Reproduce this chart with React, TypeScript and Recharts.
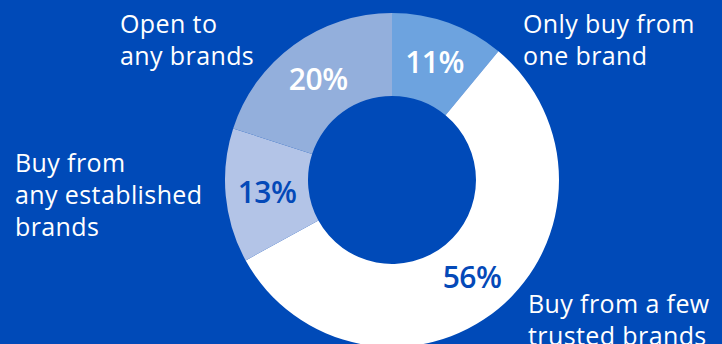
import { PieChart, Pie, Cell } from "recharts";

const segments = ["Only buy from one brand", "Buy from a few trusted brands", "Buy from any established brands", "Open to any brands"];
const shares = [11, 56, 13, 20];
const nameLines = [
  ["Only buy from", "one brand"],
  ["Buy from a few", "trusted brands"],
  ["Buy from", "any established", "brands"],
  ["Open to", "any brands"],
];

const sliceColors = ["#6da3df", "#ffffff", "#b3c4e7", "#93afdc"];
const pctColors = ["#ffffff", "#0449b8", "#0449b8", "#ffffff"];
// where each category name block starts (x, first baseline)
const nameAnchors = [
  [523, 33],
  [528, 313],
  [15, 172],
  [120, 33],
];

const BG = "#004ab8";
const FONT = "'Open Sans', Lato, sans-serif";
const RAD = Math.PI / 180;

const data = segments.map((s, i) => ({ name: s, value: shares[i] }));

function renderLabel(props: any) {
  const { cx, cy, midAngle, innerRadius, outerRadius, index, value } = props;
  const r = (innerRadius + outerRadius) / 2;
  const x = cx + r * Math.cos(-midAngle * RAD);
  const y = cy + r * Math.sin(-midAngle * RAD);
  const [nx, ny] = nameAnchors[index];
  return (
    <g>
      <text x={x} y={y} fill={pctColors[index]} textAnchor="middle" dominantBaseline="central"
        fontSize={30} fontWeight={600} fontFamily={FONT} letterSpacing={-0.5}>
        {value}%
      </text>
      <text x={nx} y={ny} fill="#ffffff" fontSize={25} fontFamily={FONT} letterSpacing={0.4}>
        {nameLines[index].map((line, k) => (
          <tspan key={k} x={nx} y={ny + k * 32}>{line}</tspan>
        ))}
      </text>
    </g>
  );
}

export default function App() {
  return (
    <div style={{ position: "fixed", left: 0, top: 0, width: 722, height: 344, background: BG, overflow: "hidden" }}>
      <PieChart width={722} height={344} margin={{ top: 0, right: 0, bottom: 0, left: 0 }}>
        <Pie
          data={data}
          dataKey="value"
          nameKey="name"
          cx={392}
          cy={180}
          innerRadius={84}
          outerRadius={167}
          startAngle={90}
          endAngle={-270}
          stroke="none"
          labelLine={false}
          label={renderLabel}
          isAnimationActive={false}
        >
          {data.map((d, i) => (
            <Cell key={d.name} fill={sliceColors[i]} />
          ))}
        </Pie>
      </PieChart>
    </div>
  );
}
